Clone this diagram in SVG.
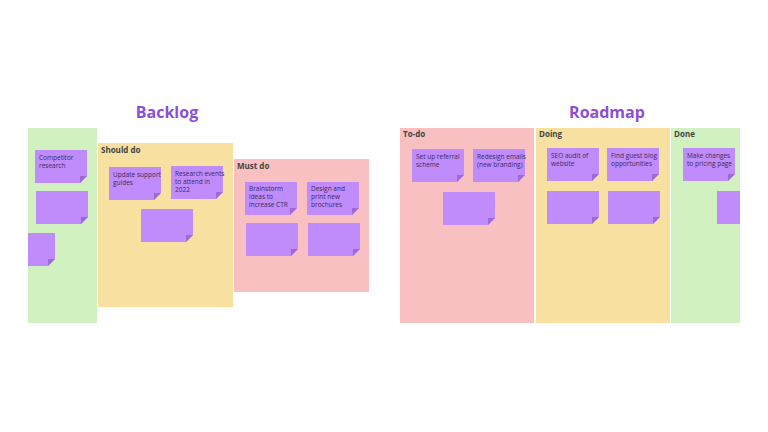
<svg xmlns="http://www.w3.org/2000/svg" width="768" height="432" viewBox="0 0 768 432">
<style>
.t{font-family:"Open Sans","Noto Sans",sans-serif;font-size:16px;font-weight:700;fill:#8a4fd8;text-anchor:middle}
.h{font-family:"Open Sans","Noto Sans",sans-serif;font-size:8px;font-weight:700;fill:#444}
.s{font-family:"Open Sans","Noto Sans",sans-serif;font-size:6.5px;fill:#3d2a5a}
.g{fill:#d2f1c0}.y{fill:#f8e0a0}.r{fill:#f8c0c0}
.n{fill:#c08cfb}.f{fill:#9d6ad6}
</style>
<defs>
<g id="st"><path class="n" d="M0 0H52V26L45 33H0Z"/><path class="f" d="M52 26L45 33V26Z"/></g>
</defs>
<rect width="768" height="432" fill="#fff"/>
<text class="t" x="167" y="118">Backlog</text>
<text class="t" x="607" y="118">Roadmap</text>
<g id="col-green1"><rect class="g" x="28" y="128" width="69" height="195"/></g>
<g id="col-should"><rect class="y" x="98" y="143" width="135" height="164"/><text class="h" x="101" y="153">Should do</text></g>
<g id="col-must"><rect class="r" x="234" y="159" width="135" height="133"/><text class="h" x="237" y="169">Must do</text></g>
<g id="col-todo"><rect class="r" x="400" y="128" width="134" height="195"/><text class="h" x="403" y="137">To-do</text></g>
<g id="col-doing"><rect class="y" x="536" y="128" width="134" height="195"/><text class="h" x="539" y="137">Doing</text></g>
<g id="col-done"><rect class="g" x="671" y="128" width="69" height="195"/><text class="h" x="674" y="137">Done</text></g>
<g id="n1"><use href="#st" x="35" y="150"/><text class="s" x="39" y="160">Competitor<tspan x="39" dy="8">research</tspan></text></g>
<g id="n2"><use href="#st" x="36" y="191"/></g>
<g id="n3"><svg x="28" y="233" width="27" height="34" overflow="hidden"><use href="#st" x="-25"/></svg></g>
<g id="n4"><use href="#st" x="109" y="167"/><text class="s" x="113" y="177" fill="#222">Update support<tspan x="113" dy="8">guides</tspan></text></g>
<g id="n5"><use href="#st" x="171" y="166"/><text class="s" x="175" y="176">Research events<tspan x="175" dy="8">to attend in</tspan><tspan x="175" dy="8">2022</tspan></text></g>
<g id="n6"><use href="#st" x="141" y="209"/></g>
<g id="n7"><use href="#st" x="245" y="182"/><text class="s" x="249" y="191">Brainstorm<tspan x="249" dy="8">ideas to</tspan><tspan x="249" dy="8">increase CTR</tspan></text></g>
<g id="n8"><use href="#st" x="307" y="182"/><text class="s" x="311" y="191">Design and<tspan x="311" dy="8">print new</tspan><tspan x="311" dy="8">brochures</tspan></text></g>
<g id="n9"><use href="#st" x="246" y="223"/></g>
<g id="n10"><use href="#st" x="308" y="223"/></g>
<g id="n11"><use href="#st" x="412" y="149"/><text class="s" x="416" y="159">Set up referral<tspan x="416" dy="8">scheme</tspan></text></g>
<g id="n12"><use href="#st" x="473" y="149"/><text class="s" x="477" y="159">Redesign emails<tspan x="477" dy="8">(new branding)</tspan></text></g>
<g id="n13"><use href="#st" x="443" y="192"/></g>
<g id="n14"><use href="#st" x="547" y="148"/><text class="s" x="551" y="158">SEO audit of<tspan x="551" dy="8">website</tspan></text></g>
<g id="n15"><use href="#st" x="607" y="148"/><text class="s" x="611" y="158">Find guest blog<tspan x="611" dy="8">opportunities</tspan></text></g>
<g id="n16"><use href="#st" x="547" y="191"/></g>
<g id="n17"><use href="#st" x="608" y="191"/></g>
<g id="n18"><use href="#st" x="683" y="148"/><text class="s" x="687" y="158">Make changes<tspan x="687" dy="8">to pricing page</tspan></text></g>
<g id="n19"><svg x="717" y="191" width="23" height="34" overflow="hidden"><use href="#st"/></svg></g>
<g id="connectors"/>
</svg>
